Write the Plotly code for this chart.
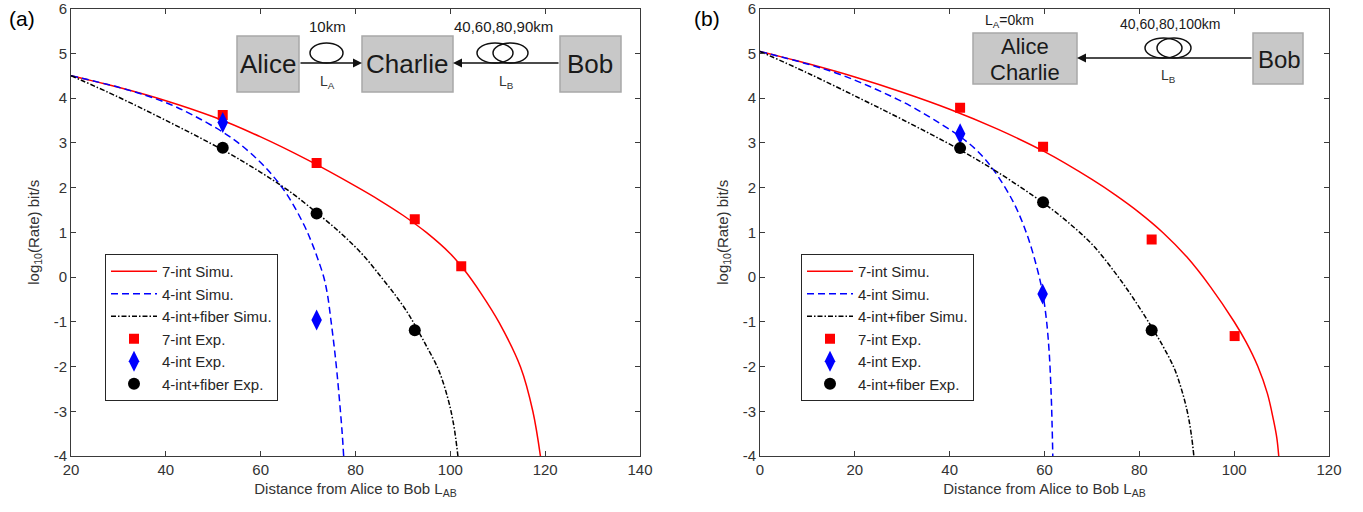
import plotly.graph_objects as go

W, H = 1363, 512

# ---------------- data ----------------
# Panel (a)
a_red_sim_x = [20, 30, 40, 50, 60, 70, 80, 85, 90, 95, 100, 103, 106.5, 110.3, 114.8, 117.4, 119.0]
a_red_sim_y = [4.50, 4.24, 3.94, 3.58, 3.13, 2.61, 2.03, 1.72, 1.38, 0.99, 0.52, 0.15, -0.37, -1.02, -2.01, -3.0, -4.0]
a_blue_sim_x = [20, 30, 36, 41.1, 46, 52, 55.5, 59.4, 62.5, 65.7, 69.2, 70.8, 72.0, 73.3, 74.1, 74.8, 75.5, 76.1, 76.7, 77.2, 77.5]
a_blue_sim_y = [4.5, 4.24, 4.05, 3.85, 3.60, 3.24, 2.98, 2.62, 2.27, 1.82, 1.15, 0.76, 0.42, 0.0, -0.4, -0.95, -1.55, -2.15, -2.85, -3.5, -4.0]
a_blk_sim_x = [20, 30, 40, 52, 60, 66, 72, 77, 81.5, 85.4, 88.5, 91.0, 92.5, 95, 97.5, 99.5, 100.7, 101.6]
a_blk_sim_y = [4.5, 4.02, 3.50, 2.84, 2.34, 1.92, 1.42, 0.97, 0.50, 0.0, -0.42, -0.80, -1.07, -1.55, -2.07, -2.72, -3.3, -4.0]
a_red_exp_x = [52.0, 71.8, 92.5, 102.3]
a_red_exp_y = [3.62, 2.55, 1.29, 0.24]
a_blue_exp_x = [52.0, 71.8]
a_blue_exp_y = [3.45, -0.96]
a_blk_exp_x = [52.0, 71.8, 92.5]
a_blk_exp_y = [2.89, 1.42, -1.19]

# Panel (b)
b_red_sim_x = [0, 10, 20, 30, 40, 50, 60, 70, 75, 80, 85, 90, 95, 100, 102.5, 105, 107, 108.3, 109, 109.4]
b_red_sim_y = [5.04, 4.77, 4.47, 4.13, 3.75, 3.31, 2.80, 2.18, 1.83, 1.44, 0.99, 0.45, -0.22, -1.0, -1.45, -2.0, -2.6, -3.2, -3.6, -4.0]
b_blue_sim_x = [0, 10, 16, 21.1, 26, 31.6, 36.6, 42.2, 46, 49.2, 53.4, 56.2, 58.3, 59.6, 60.4, 61.0, 61.4, 61.6, 61.75]
b_blue_sim_y = [5.04, 4.76, 4.56, 4.35, 4.12, 3.83, 3.52, 3.14, 2.80, 2.40, 1.68, 0.98, 0.25, -0.35, -0.95, -1.7, -2.6, -3.3, -4.0]
b_blk_sim_x = [0, 10, 21.1, 30, 42.2, 50, 59.7, 65, 70.3, 75, 78.5, 82.2, 85, 87.4, 89, 90.2, 91, 91.5]
b_blk_sim_y = [5.04, 4.56, 3.99, 3.52, 2.84, 2.35, 1.66, 1.22, 0.70, 0.08, -0.44, -1.05, -1.55, -2.05, -2.55, -3.05, -3.55, -4.0]
b_red_exp_x = [42.2, 59.7, 82.6, 100.1]
b_red_exp_y = [3.78, 2.91, 0.84, -1.32]
b_blue_exp_x = [42.2, 59.6]
b_blue_exp_y = [3.2, -0.38]
b_blk_exp_x = [42.2, 59.7, 82.6]
b_blk_exp_y = [2.88, 1.67, -1.19]

names = ["7-int Simu.", "4-int Simu.", "4-int+fiber Simu.", "7-int Exp.", "4-int Exp.", "4-int+fiber Exp."]
a_xticks = [20, 40, 60, 80, 100, 120, 140]
b_xticks = [0, 20, 40, 60, 80, 100, 120]
yticks = [-4, -3, -2, -1, 0, 1, 2, 3, 4, 5, 6]

FONT = "Liberation Sans, Arial, sans-serif"
RED, BLUE, BLK = "#ff0000", "#0000ff", "#000000"

fig = go.Figure()

def add_panel(xa, ya, legend, sims, exps):
    styles = [dict(color=RED, width=1.5, dash="solid"),
              dict(color=BLUE, width=1.5, dash="7px,4px"),
              dict(color=BLK, width=1.5, dash="5px,2px,1.5px,2px")]
    for i, (x, y) in enumerate(sims):
        fig.add_trace(go.Scatter(x=x, y=y, mode="lines", name=names[i], line=styles[i],
                                 line_shape="spline", xaxis=xa, yaxis=ya, legend=legend,
                                 legendgroup=legend + str(i)))
    msty = [dict(symbol="square", size=10, color=RED),
            dict(symbol="diamond-tall", size=15, color=BLUE),
            dict(symbol="circle", size=12, color=BLK)]
    for i, (x, y) in enumerate(exps):
        fig.add_trace(go.Scatter(x=x, y=y, mode="markers", name=names[3 + i], marker=msty[i],
                                 xaxis=xa, yaxis=ya, legend=legend,
                                 legendgroup=legend + str(3 + i)))

add_panel("x", "y", "legend",
          [(a_red_sim_x, a_red_sim_y), (a_blue_sim_x, a_blue_sim_y), (a_blk_sim_x, a_blk_sim_y)],
          [(a_red_exp_x, a_red_exp_y), (a_blue_exp_x, a_blue_exp_y), (a_blk_exp_x, a_blk_exp_y)])
add_panel("x2", "y2", "legend2",
          [(b_red_sim_x, b_red_sim_y), (b_blue_sim_x, b_blue_sim_y), (b_blk_sim_x, b_blk_sim_y)],
          [(b_red_exp_x, b_red_exp_y), (b_blue_exp_x, b_blue_exp_y), (b_blk_exp_x, b_blk_exp_y)])

def px(x):
    return x / W

def py(y):
    return 1 - y / H

ydom = [py(456), py(8.5)]
axis_common = dict(showline=True, linecolor="#3a3a3a", linewidth=1, mirror="ticks",
                   ticks="inside", ticklen=5, tickcolor="#3a3a3a", showgrid=False,
                   zeroline=False, tickfont=dict(family=FONT, size=15, color="#333333"),
                   automargin=False, ticklabeloverflow="allow")
xtitle = dict(text="Distance from Alice to Bob L<sub>AB</sub>",
              font=dict(family=FONT, size=15, color="#333333"), standoff=6)
ytitle = dict(text="log<sub>10</sub>(Rate) bit/s",
              font=dict(family=FONT, size=15, color="#333333"), standoff=10)

legend_common = dict(xanchor="left", yanchor="top", bordercolor="#262626", borderwidth=1,
                     bgcolor="white", font=dict(family=FONT, size=15, color="#262626"),
                     tracegroupgap=4, traceorder="normal", itemwidth=46)

ylabels = [str(v) for v in yticks]
fig.update_layout(
    width=W, height=H, margin=dict(l=0, r=0, t=0, b=0),
    plot_bgcolor="white", paper_bgcolor="white",
    font=dict(family=FONT),
    xaxis=dict(domain=[px(71), px(640)], range=[20, 140], tickvals=a_xticks,
               ticktext=[str(v) for v in a_xticks], anchor="y", title=xtitle, **axis_common),
    yaxis=dict(domain=ydom, range=[-4.0001, 6.0001], tickvals=yticks, ticktext=ylabels,
               anchor="x", title=ytitle, **axis_common),
    xaxis2=dict(domain=[px(760), px(1329)], range=[0, 120], tickvals=b_xticks,
                ticktext=[str(v) for v in b_xticks], anchor="y2", title=xtitle, **axis_common),
    yaxis2=dict(domain=ydom, range=[-4.0001, 6.0001], tickvals=yticks, ticktext=ylabels,
                anchor="x2", title=ytitle, **axis_common),
    legend=dict(x=px(105), y=py(254), **legend_common),
    legend2=dict(x=px(801), y=py(254), **legend_common),
)

# ---------------- inset diagrams ----------------
BOX_FILL, BOX_LINE = "#c8c8c8", "#a8a8a8"

def box(x0, x1, y0, y1):
    fig.add_shape(type="rect", xref="paper", yref="paper", x0=px(x0), x1=px(x1),
                  y0=py(y1), y1=py(y0), fillcolor=BOX_FILL, line=dict(color=BOX_LINE, width=1.5))

def coil(x0, x1, y0, y1):
    fig.add_shape(type="circle", xref="paper", yref="paper", x0=px(x0), x1=px(x1),
                  y0=py(y1), y1=py(y0), line=dict(color="#111111", width=1.5))

def text(x, y, s, size, color="#1a1a1a"):
    fig.add_annotation(xref="paper", yref="paper", x=px(x), y=py(y), text=s, showarrow=False,
                       xanchor="center", yanchor="middle",
                       font=dict(family=FONT, size=size, color=color))

def arrow(tip, tail, y):
    fig.add_annotation(xref="paper", yref="paper", x=px(tip), y=py(y), ax=tail - tip, ay=0,
                       axref="pixel", ayref="pixel", text="", showarrow=True,
                       arrowhead=2, arrowsize=1.2, arrowwidth=1.5, arrowcolor="#111111")

# panel (a) diagram
box(237, 299, 36, 92)
box(362, 453, 36, 92)
box(560, 621, 36, 92)
arrow(362, 299, 63)
arrow(453, 560, 63)
coil(310, 343, 43, 63)
coil(477, 513, 43, 63)
coil(493, 528, 43, 63)
text(268, 64, "Alice", 26)
text(407, 64, "Charlie", 26)
text(590, 64, "Bob", 26)
text(327, 26, "10km", 15)
text(327, 82, "L<sub>A</sub>", 14, "#333333")
text(503, 26, "40,60,80,90km", 15)
text(506, 82, "L<sub>B</sub>", 14, "#333333")

# panel (b) diagram
box(973, 1077, 33, 84)
box(1253, 1303, 33, 84)
arrow(1077, 1253, 58)
coil(1145, 1182, 38, 58)
coil(1157, 1191, 38, 58)
text(1025, 46, "Alice", 22)
text(1025, 72, "Charlie", 22)
text(1279, 59, "Bob", 24)
text(1010, 21, "L<sub>A</sub>=0km", 14)
text(1170, 24, "40,60,80,100km", 14)
text(1168, 76, "L<sub>B</sub>", 14, "#333333")

# panel labels
text(22, 18, "(a)", 21, "#000000")
text(707, 18, "(b)", 21, "#000000")

fig.write_html("out.html", config={"displayModeBar": False},
               post_script="document.body.style.margin='0';document.body.style.overflow='hidden';")
